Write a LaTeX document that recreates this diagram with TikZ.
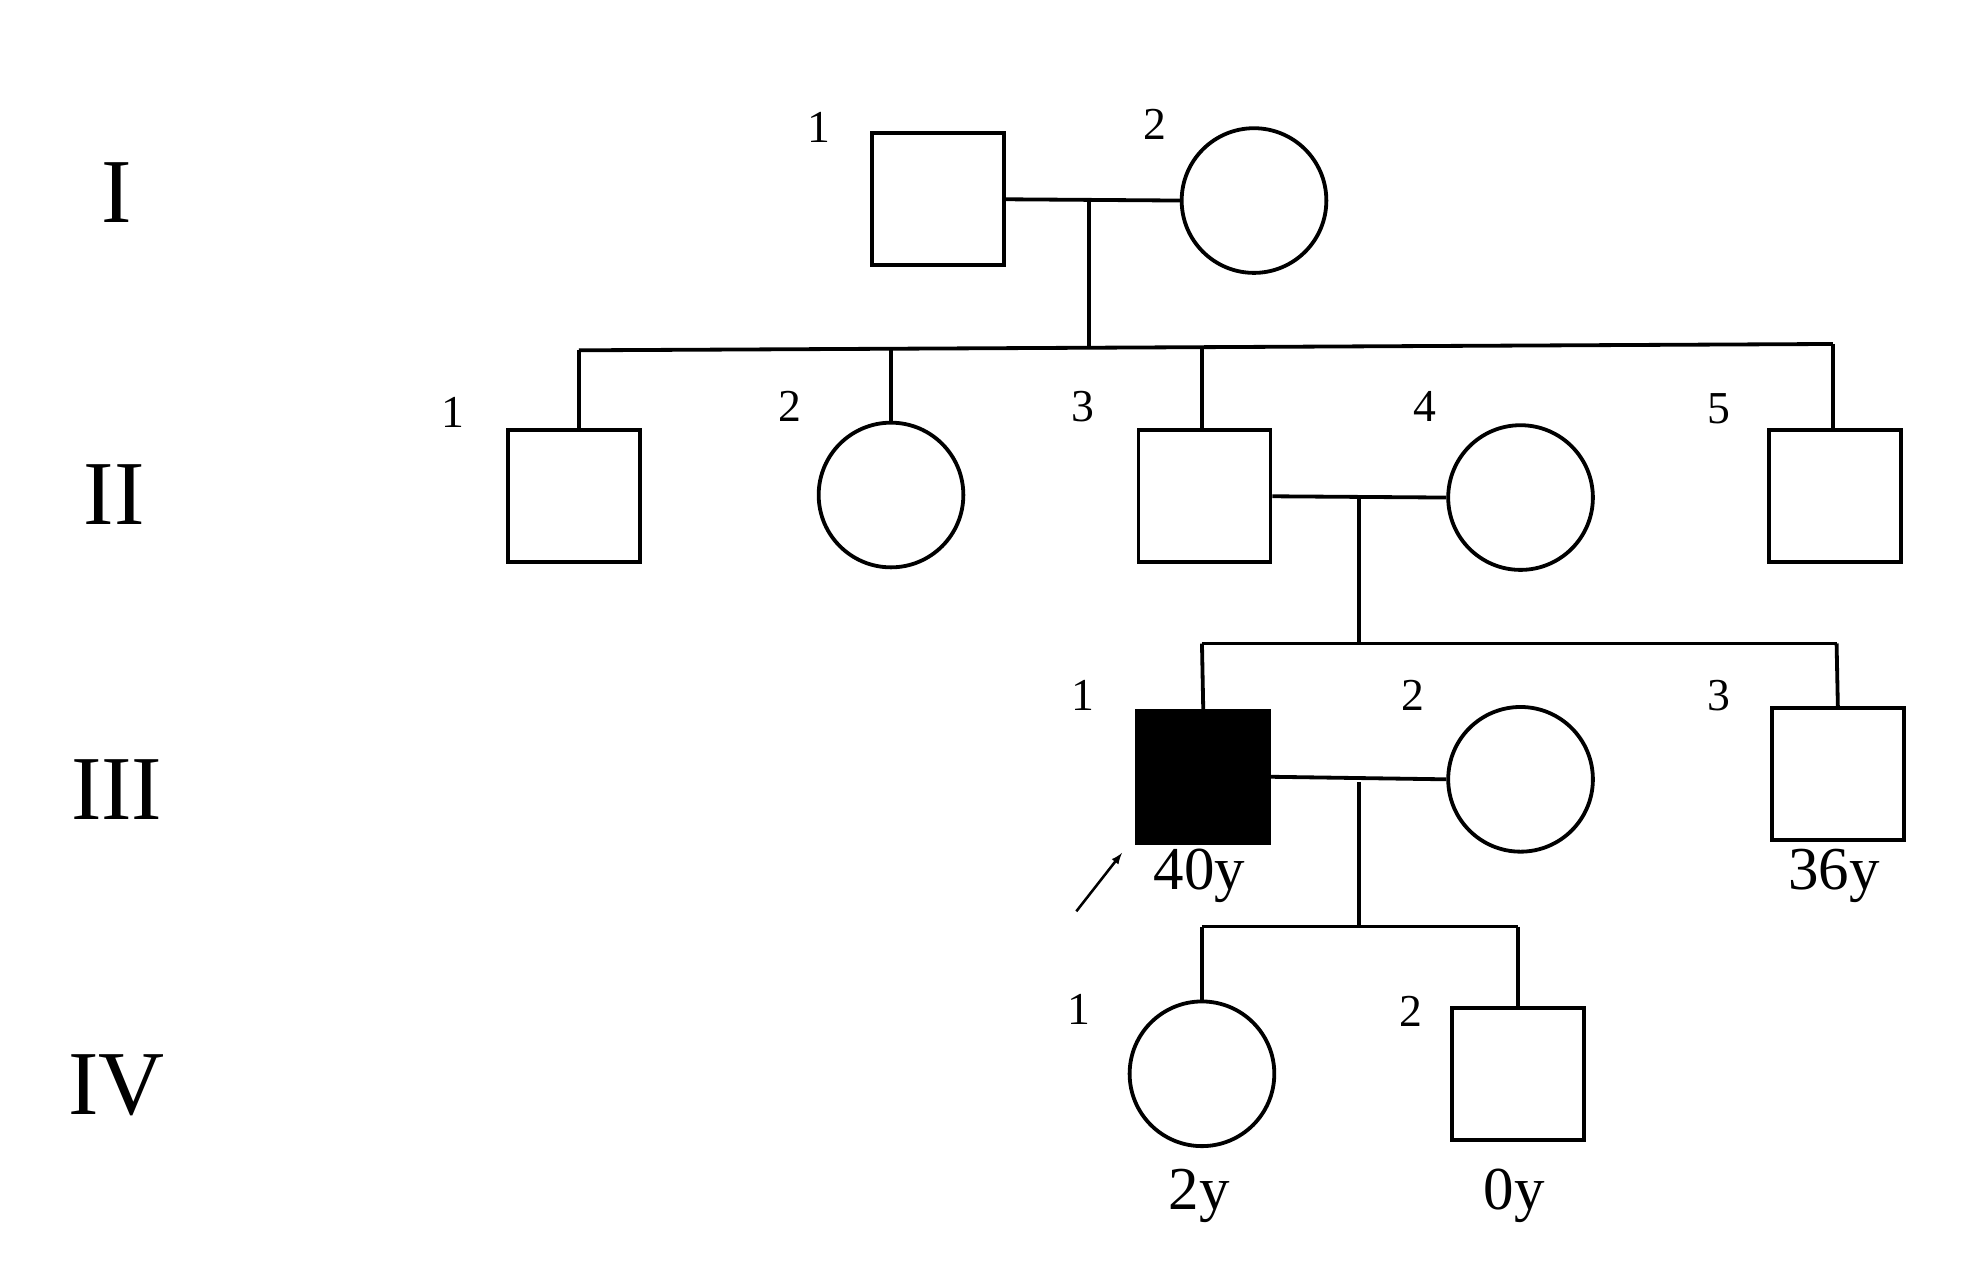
\documentclass[tikz,border=0pt]{standalone}
\usepackage{fontspec}
\setmainfont{Liberation Serif}
\begin{document}
\begin{tikzpicture}[x=1pt,y=-1pt,line width=3pt,
 sq/.style={draw,rectangle,minimum size=104pt,inner sep=0pt},
 ci/.style={draw,circle,minimum size=114pt,inner sep=0pt},
 gen/.style={font=\fontsize{72}{72}\selectfont},
 num/.style={font=\fontsize{36}{36}\selectfont},
 age/.style={font=\fontsize{48}{48}\selectfont}]
\useasboundingbox (0,0) rectangle (1560,997);
\node[gen] (gI) at (92,152) {I};
\node[gen] (gII) at (90,390) {II};
\node[gen] (gIII) at (92,622) {III};
\node[gen] (gIV) at (92,855) {IV};
% gen I
\node[sq] (a1) at (739,157) {};
\node[ci] (a2) at (988,158) {};
\node[num] (na1) at (645,100) {1};
\node[num] (na2) at (910,98) {2};
\coordinate (m1) at (858,157);
\coordinate (s1) at (858,273);
\draw (a1.east) -- (a2.west);
\draw (m1) -- (s1);
% gen II
\node[sq] (b1) at (452,391) {};
\node[ci] (b2) at (702,390) {};
\node[sq] (b3) at (949,391) {};
\node[ci] (b4) at (1198,392) {};
\node[sq] (b5) at (1446,391) {};
\node[num] (nb1) at (357,325) {1};
\node[num] (nb2) at (622,320) {2};
\node[num] (nb3) at (853,320) {3};
\node[num] (nb4) at (1123,320) {4};
\node[num] (nb5) at (1354,322) {5};
\coordinate (t1) at (456,276);
\coordinate (t5) at (1444,271);
\draw (t1) -- (t5);
\draw (t1) -- (456,338);
\draw (702,275) -- (b2.north);
\draw (947,274) -- (947,338);
\draw (t5) -- (1444,338);
\draw (b3.east) -- (b4.west);
\coordinate (m2) at (1071,391);
\coordinate (s2) at (1071,507);
\draw (m2) -- (s2);
% gen III
\node[sq,fill=black] (c1) at (948,612) {};
\node[ci] (c2) at (1198,614) {};
\node[sq] (c3) at (1448,610) {};
\node[num] (nc1) at (853,548) {1};
\node[num] (nc2) at (1113,548) {2};
\node[num] (nc3) at (1354,548) {3};
\node[age] (ac1) at (945,690) {40y};
\node[age] (ac3) at (1445,690) {36y};
\draw (947,507) -- (1447,507);
\draw (947,507) -- (c1.north);
\draw (1447,507) -- (c3.north);
\draw (c1.east) -- (c2.west);
\coordinate (m3) at (1071,616);
\coordinate (s3) at (1071,730);
\draw (m3) -- (s3);
\coordinate (ar0) at (848,718);
\coordinate (ar1) at (884,672);
\draw[line width=2pt,-latex] (ar0) -- (ar1);
% gen IV
\node[ci] (d1) at (947,846) {};
\node[sq] (d2) at (1196,846) {};
\node[num] (nd1) at (850,795) {1};
\node[num] (nd2) at (1112,797) {2};
\node[age] (ad1) at (945,942) {2y};
\node[age] (ad2) at (1193,942) {0y};
\draw (947,730) -- (1196,730);
\draw (947,730) -- (d1.north);
\draw (1196,730) -- (d2.north);
\end{tikzpicture}
\end{document}
